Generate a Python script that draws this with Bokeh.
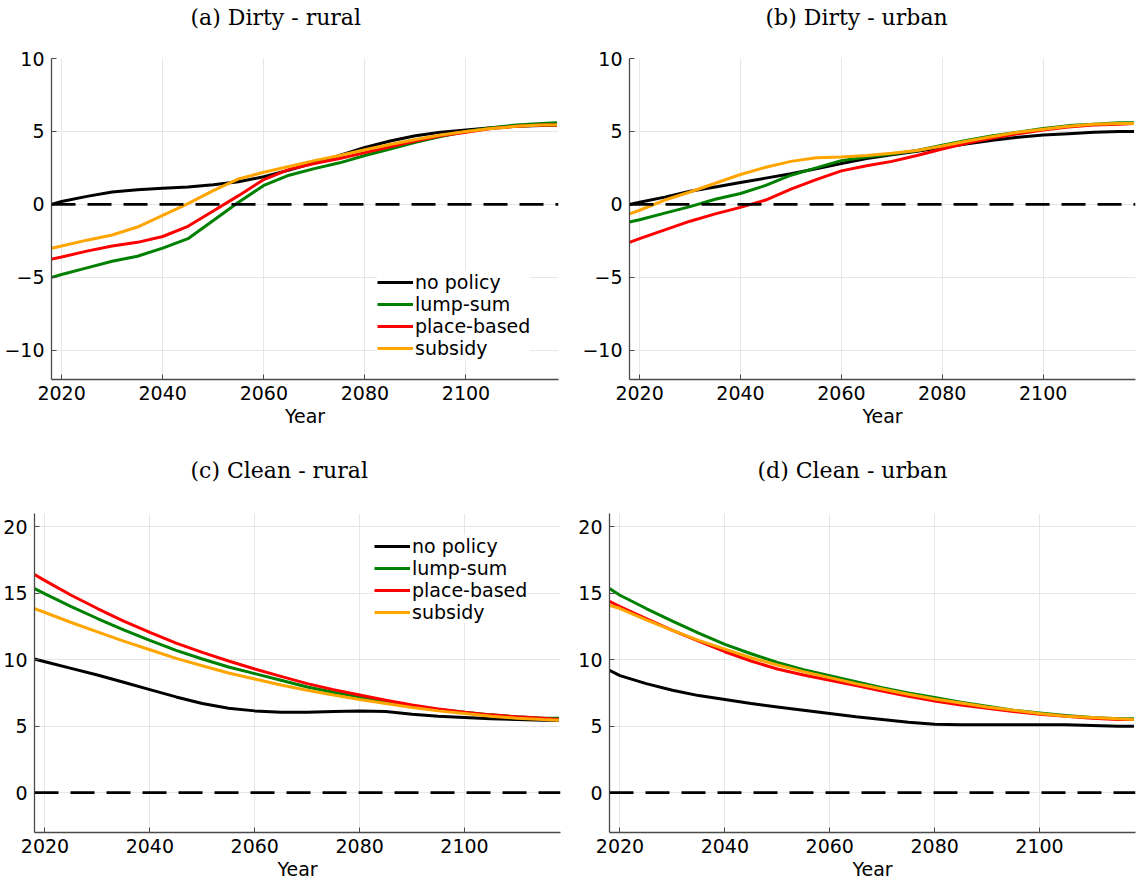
from bokeh.plotting import figure
from bokeh.layouts import column, row
from bokeh.models import Range1d, Span, FixedTicker, Legend, LegendItem, Title
from bokeh.embed import file_html
from bokeh.resources import INLINE

years = [2018, 2020, 2025, 2030, 2035, 2040, 2045, 2050, 2055, 2060, 2065,
         2070, 2075, 2080, 2085, 2090, 2095, 2100, 2105, 2110, 2115, 2118]

series_names = ["no policy", "lump-sum", "place-based", "subsidy"]
series_colors = ["black", "#008000", "#ff0000", "#ffa500"]

# (a) Dirty - rural
a_nopolicy = [0.0, 0.2, 0.55, 0.85, 1.0, 1.1, 1.2, 1.35, 1.55, 1.9, 2.35,
              2.85, 3.35, 3.9, 4.35, 4.7, 4.95, 5.1, 5.25, 5.35, 5.4, 5.4]
a_lumpsum = [-5.0, -4.8, -4.35, -3.9, -3.55, -3.0, -2.35, -1.1, 0.15, 1.3, 2.0,
             2.45, 2.85, 3.35, 3.8, 4.25, 4.65, 5.0, 5.25, 5.45, 5.55, 5.6]
a_place = [-3.75, -3.6, -3.2, -2.85, -2.6, -2.2, -1.5, -0.45, 0.6, 1.7, 2.4,
           2.8, 3.15, 3.55, 3.95, 4.35, 4.7, 4.95, 5.2, 5.35, 5.45, 5.45]
a_subsidy = [-3.0, -2.85, -2.45, -2.1, -1.55, -0.75, 0.05, 0.95, 1.75, 2.2, 2.6,
             3.0, 3.35, 3.75, 4.1, 4.45, 4.75, 5.0, 5.2, 5.35, 5.45, 5.45]

# (b) Dirty - urban
b_nopolicy = [0.0, 0.15, 0.5, 0.9, 1.2, 1.5, 1.8, 2.1, 2.45, 2.8, 3.15,
              3.4, 3.65, 3.9, 4.15, 4.4, 4.6, 4.75, 4.85, 4.95, 5.0, 5.0]
b_lumpsum = [-1.2, -1.05, -0.6, -0.15, 0.35, 0.75, 1.3, 2.0, 2.5, 3.0, 3.25,
             3.45, 3.7, 4.05, 4.4, 4.7, 4.95, 5.2, 5.4, 5.5, 5.6, 5.6]
b_place = [-2.6, -2.35, -1.75, -1.15, -0.65, -0.2, 0.3, 1.05, 1.7, 2.3, 2.65,
           2.95, 3.35, 3.8, 4.2, 4.55, 4.85, 5.1, 5.3, 5.45, 5.5, 5.55]
b_subsidy = [-0.65, -0.4, 0.3, 0.85, 1.45, 2.05, 2.55, 2.95, 3.2, 3.25, 3.35,
             3.5, 3.7, 4.0, 4.35, 4.65, 4.95, 5.15, 5.35, 5.5, 5.55, 5.55]

# (c) Clean - rural
c_nopolicy = [10.05, 9.85, 9.35, 8.85, 8.3, 7.75, 7.2, 6.7, 6.35, 6.15, 6.05,
              6.05, 6.1, 6.15, 6.1, 5.9, 5.75, 5.65, 5.55, 5.5, 5.45, 5.45]
c_lumpsum = [15.35, 14.95, 14.0, 13.1, 12.25, 11.45, 10.7, 10.05, 9.45, 8.95, 8.45,
             7.95, 7.55, 7.2, 6.85, 6.5, 6.25, 6.05, 5.85, 5.7, 5.6, 5.6]
c_place = [16.4, 15.95, 14.85, 13.85, 12.9, 12.05, 11.25, 10.55, 9.9, 9.3, 8.75,
           8.2, 7.75, 7.35, 6.95, 6.6, 6.3, 6.05, 5.85, 5.7, 5.6, 5.5]
c_subsidy = [13.85, 13.55, 12.8, 12.1, 11.4, 10.75, 10.1, 9.55, 9.0, 8.55, 8.1,
             7.7, 7.35, 7.0, 6.7, 6.4, 6.15, 5.95, 5.75, 5.6, 5.5, 5.45]

# (d) Clean - urban
d_nopolicy = [9.2, 8.8, 8.2, 7.7, 7.3, 7.0, 6.7, 6.45, 6.2, 5.95, 5.7,
              5.5, 5.3, 5.15, 5.1, 5.1, 5.1, 5.1, 5.1, 5.05, 5.0, 5.0]
d_lumpsum = [15.35, 14.85, 13.85, 12.9, 12.0, 11.15, 10.45, 9.8, 9.25, 8.8, 8.35,
             7.9, 7.5, 7.15, 6.8, 6.5, 6.2, 6.0, 5.8, 5.65, 5.55, 5.55]
d_place = [14.4, 14.0, 13.1, 12.2, 11.4, 10.6, 9.9, 9.3, 8.85, 8.45, 8.05,
           7.65, 7.25, 6.9, 6.6, 6.35, 6.1, 5.9, 5.75, 5.6, 5.5, 5.5]
d_subsidy = [14.1, 13.85, 13.0, 12.2, 11.45, 10.8, 10.15, 9.6, 9.1, 8.65, 8.2,
             7.8, 7.4, 7.05, 6.75, 6.45, 6.2, 5.95, 5.75, 5.65, 5.55, 5.5]

x_ticks = [2020, 2040, 2060, 2080, 2100]
dirty_yticks = [-10, -5, 0, 5, 10]
clean_yticks = [0, 5, 10, 15, 20]

TICK_FONT = "DejaVu Sans"
TICK_SIZE = "19px"


def make_panel(title, data, yrange, yticks, w, h, left, right, top, bottom,
               title_offset, spacer_standoff, legend_loc=None):
    p = figure(width=w, height=h, x_range=Range1d(2018, 2118.3),
               y_range=Range1d(*yrange), output_backend="svg",
               toolbar_location=None, min_border_left=left,
               min_border_right=right, min_border_top=top,
               min_border_bottom=bottom)
    # spacer between frame and title, then the title itself
    spacer = Title(text=" ", text_font_size="14px", standoff=spacer_standoff)
    p.add_layout(spacer, "above")
    t = Title(text=title, align="left", offset=title_offset,
              text_font="DejaVu Serif", text_font_size="22px",
              text_font_style="normal", text_color="black", standoff=4)
    p.add_layout(t, "above")

    p.outline_line_color = None
    p.background_fill_color = "white"
    p.border_fill_color = "white"

    for ax in (p.xaxis[0], p.yaxis[0]):
        ax.axis_line_color = "#4a4a4a"
        ax.axis_line_width = 1.3
        ax.major_tick_in = 5
        ax.major_tick_out = 0
        ax.major_tick_line_color = "#4a4a4a"
        ax.minor_tick_line_color = None
        ax.major_label_text_font = TICK_FONT
        ax.major_label_text_font_size = TICK_SIZE
        ax.major_label_text_color = "black"
        ax.major_label_standoff = 6
    p.yaxis.major_label_standoff = 7
    p.xaxis.ticker = FixedTicker(ticks=x_ticks)
    p.yaxis.ticker = FixedTicker(ticks=yticks)
    p.yaxis.major_label_overrides = {t_: (str(t_).replace("-", "\u2212")) for t_ in yticks}
    p.xaxis.axis_label = "Year"
    p.xaxis.axis_label_text_font = TICK_FONT
    p.xaxis.axis_label_text_font_size = TICK_SIZE
    p.xaxis.axis_label_text_font_style = "normal"
    p.xaxis.axis_label_text_color = "black"
    p.xaxis.axis_label_standoff = 2

    p.xgrid.grid_line_color = "#e6e6e6"
    p.ygrid.grid_line_color = "#e6e6e6"
    p.xgrid.grid_line_width = 1
    p.ygrid.grid_line_width = 1

    renderers = []
    for vals, color in zip(data, series_colors):
        renderers.append(p.line(years, vals, color=color, line_width=3))

    p.add_layout(Span(location=0, dimension="width", line_color="black",
                      line_width=2.6, line_dash="24 12"))

    if legend_loc is not None:
        items = [LegendItem(label=name, renderers=[r])
                 for name, r in zip(series_names, renderers)]
        leg = Legend(items=items, location=legend_loc)
        leg.label_text_font = TICK_FONT
        leg.label_text_font_size = TICK_SIZE
        leg.label_text_color = "black"
        leg.glyph_width = 36
        leg.glyph_height = 20
        leg.label_height = 20
        leg.label_standoff = 2
        leg.spacing = 0
        leg.padding = 8
        leg.margin = 0
        leg.border_line_color = None
        leg.background_fill_color = "white"
        leg.background_fill_alpha = 1.0
        p.add_layout(leg)
    return p


pa = make_panel("(a) Dirty - rural", [a_nopolicy, a_lumpsum, a_place, a_subsidy],
                (-12, 10), dirty_yticks, 572, 443, 51, 14, 58, 64,
                title_offset=139, spacer_standoff=9, legend_loc=(326, 20))
pb = make_panel("(b) Dirty - urban", [b_nopolicy, b_lumpsum, b_place, b_subsidy],
                (-12, 10), dirty_yticks, 564, 443, 57, 1, 58, 64,
                title_offset=136, spacer_standoff=9)
pc = make_panel("(c) Clean - rural", [c_nopolicy, c_lumpsum, c_place, c_subsidy],
                (-3, 21), clean_yticks, 575, 441, 32, 15, 70, 52,
                title_offset=156, spacer_standoff=11, legend_loc=(340, 209))
pd = make_panel("(d) Clean - urban", [d_nopolicy, d_lumpsum, d_place, d_subsidy],
                (-3, 21), clean_yticks, 561, 441, 34, 1, 70, 52,
                title_offset=148, spacer_standoff=11)

layout = column(row(pa, pb), row(pc, pd))

open("out.html", "w").write(file_html(layout, INLINE))
